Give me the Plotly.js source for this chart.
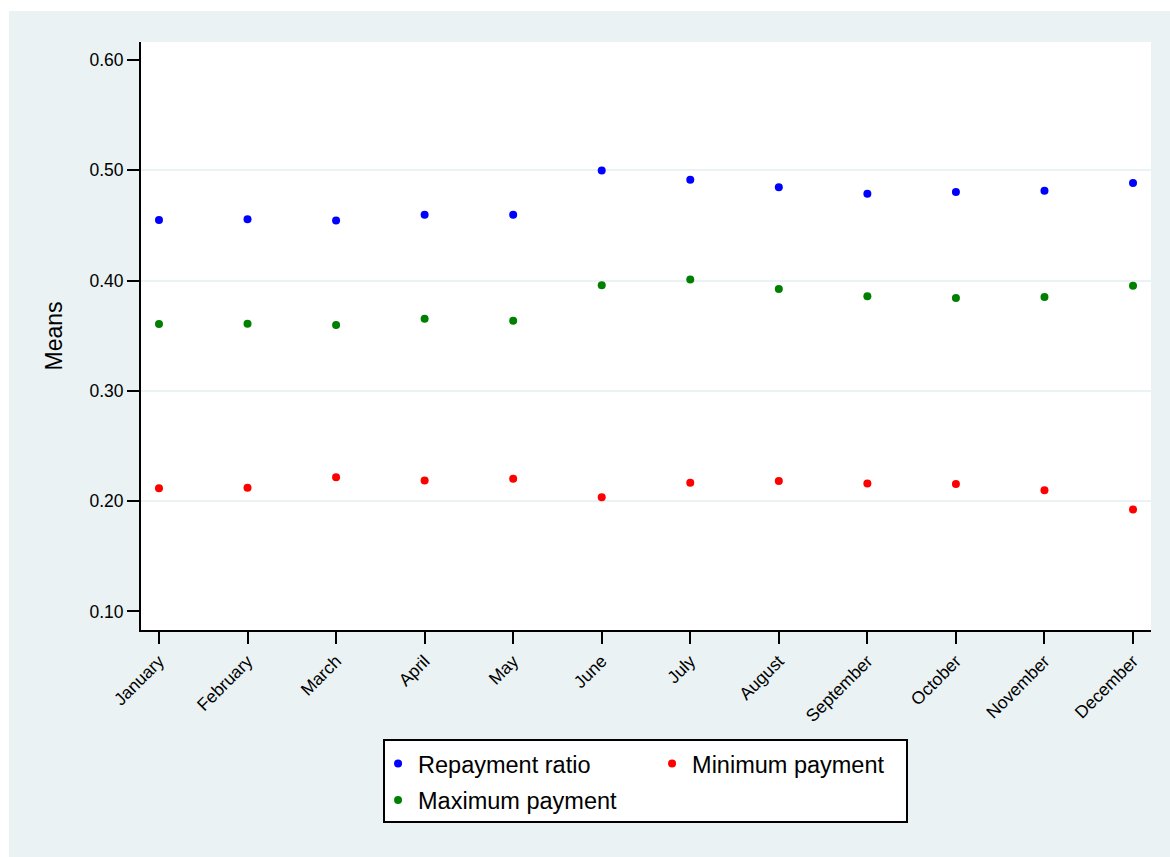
<!DOCTYPE html>
<html>
<head>
<meta charset="utf-8">
<script src="https://cdn.plot.ly/plotly-3.0.1.min.js"></script>
<style>
  html, body { margin: 0; padding: 0; background: #ffffff; }
  #chart { position: absolute; left: 9px; top: 11px; width: 1161px; height: 846px; }
</style>
</head>
<body>
<div id="chart"></div>
<script>
// Monthly means of three payment measures
const months = ["January", "February", "March", "April", "May", "June",
                "July", "August", "September", "October", "November", "December"];
const repaymentRatio = [0.455, 0.4555, 0.4545, 0.4597, 0.4597, 0.4997,
                        0.4915, 0.4845, 0.4788, 0.4803, 0.4815, 0.4885];
const maximumPayment = [0.3606, 0.3609, 0.3597, 0.3655, 0.3636, 0.3957,
                        0.4009, 0.3924, 0.3857, 0.3842, 0.3851, 0.3952];
const minimumPayment = [0.2118, 0.2121, 0.2218, 0.2188, 0.2203, 0.2036,
                        0.2167, 0.2182, 0.2161, 0.2155, 0.2100, 0.1924];
const yTicks = [0.1, 0.2, 0.3, 0.4, 0.5, 0.6];
const yTickText = ["0.10", "0.20", "0.30", "0.40", "0.50", "0.60"];
const gridTicks = [0.2, 0.3, 0.4, 0.5];

const FONT = "Liberation Sans, Arial, Helvetica, sans-serif";
const PANEL = "#eaf2f3";
const yRange = [0.0832, 0.6163];

function series(name, values, color, legend) {
  return {
    type: "scatter", mode: "markers", name: name,
    x: months, y: values, legend: legend, legendgroup: name,
    marker: { color: color, size: 8, line: { width: 0 } },
    hoverinfo: "x+y+name"
  };
}

const traces = [
  series("Repayment ratio", repaymentRatio, "#0000ff", "legend"),
  series("Maximum payment", maximumPayment, "#008000", "legend"),
  series("Minimum payment", minimumPayment, "#ff0000", "legend2")
];

const legendCommon = {
  orientation: "v",
  bgcolor: "rgba(0,0,0,0)",
  borderwidth: 0,
  font: { family: FONT, size: 23.5, color: "#000000" },
  xanchor: "left", yanchor: "top",
  tracegroupgap: 3,
  itemclick: false, itemdoubleclick: false
};

const layout = {
  width: 1161, height: 846,
  paper_bgcolor: PANEL,
  plot_bgcolor: "#ffffff",
  margin: { l: 132, r: 19, t: 31, b: 227, pad: 0 },
  showlegend: true,
  font: { family: FONT, color: "#000000" },
  xaxis: {
    type: "category",
    range: [-0.203, 11.203],
    showgrid: false, zeroline: false,
    showline: true, linecolor: "#000000", linewidth: 2,
    ticks: "outside", ticklen: 12, tickwidth: 2, tickcolor: "#000000",
    tickangle: -45,
    tickfont: { family: FONT, size: 17.5, color: "#000000" },
    fixedrange: true
  },
  yaxis: {
    range: yRange,
    tickvals: yTicks, ticktext: yTickText,
    showgrid: false, zeroline: false,
    showline: true, linecolor: "#000000", linewidth: 2,
    ticks: "outside", ticklen: 12, tickwidth: 2, tickcolor: "#000000",
    tickfont: { family: FONT, size: 17.5, color: "#000000" },
    title: { text: "Means", font: { family: FONT, size: 23, color: "#000000" }, standoff: 20 },
    fixedrange: true
  },
  // second y axis carries only the interior gridlines
  yaxis2: {
    overlaying: "y",
    range: yRange,
    tickvals: gridTicks,
    showticklabels: false, ticks: "",
    showgrid: true, gridcolor: PANEL, gridwidth: 2,
    zeroline: false, showline: false,
    fixedrange: true
  },
  legend: Object.assign({}, legendCommon, { x: 0.2347, y: -0.19 }),
  legend2: Object.assign({}, legendCommon, { x: 0.506, y: -0.19 }),
  shapes: [
    {
      type: "rect", xref: "paper", yref: "paper", layer: "below",
      x0: (384 - 141) / 1010, x1: (907 - 141) / 1010,
      y0: (630 - 740) / 588, y1: (630 - 822) / 588,
      line: { color: "#000000", width: 2 },
      fillcolor: "#ffffff"
    }
  ]
};

// placeholder trace so the gridline axis is laid out
traces.push({
  type: "scatter", mode: "markers", x: [], y: [], yaxis: "y2",
  showlegend: false, hoverinfo: "skip"
});

Plotly.newPlot("chart", traces, layout, { displayModeBar: false, staticPlot: true });
</script>
</body>
</html>
